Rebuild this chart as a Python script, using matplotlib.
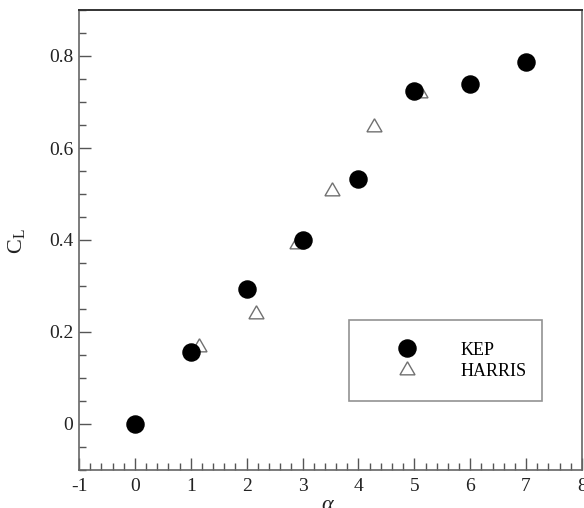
import matplotlib
matplotlib.use("Agg")
import matplotlib.pyplot as plt
from matplotlib.ticker import MultipleLocator

plt.rcParams['font.family'] = ['Liberation Serif', 'DejaVu Serif']
plt.rcParams['axes.unicode_minus'] = False
plt.rcParams['mathtext.fontset'] = 'custom'
plt.rcParams['mathtext.rm'] = 'Liberation Serif'
plt.rcParams['mathtext.it'] = 'Liberation Serif:italic'

kep_alpha = [0, 1, 2, 3, 4, 5, 6, 7]
kep_cl = [0.0, 0.157, 0.294, 0.399, 0.533, 0.724, 0.739, 0.787]

harris_alpha = [1.15, 2.17, 2.90, 3.53, 4.27, 5.10]
harris_cl = [0.168, 0.240, 0.391, 0.507, 0.646, 0.719]

fig = plt.figure(figsize=(5.84, 5.08), dpi=100)
ax = fig.add_axes([79/584, 1 - 470/508, (582 - 79)/584, (470 - 10)/508])

ax.plot(harris_alpha, harris_cl, linestyle='none', marker=(3, 0, 0), markersize=12.5,
        markerfacecolor='white', markeredgecolor='#707070', markeredgewidth=1.0,
        label='HARRIS', zorder=3)
ax.plot(kep_alpha, kep_cl, linestyle='none', marker='o', markersize=12.3,
        markerfacecolor='black', markeredgecolor='black', label='KEP', zorder=4)

ax.set_xlim(-1, 8)
ax.set_ylim(-0.1, 0.9)
ax.xaxis.set_minor_locator(MultipleLocator(0.2))
ax.yaxis.set_minor_locator(MultipleLocator(0.05))
ax.set_yticks([0, 0.2, 0.4, 0.6, 0.8])
ax.set_yticklabels(['0', '0.2', '0.4', '0.6', '0.8'])
ax.set_xticks(range(-1, 9))
ax.set_xticklabels([str(v) for v in range(-1, 9)])

ax.tick_params(which='both', direction='in', top=False, right=False, colors='#555555',
               labelcolor='#222222', labelsize=14)
ax.tick_params(which='major', length=8.5, width=1.0)
ax.tick_params(which='minor', length=5.2, width=1.0)
ax.tick_params(axis='x', pad=6)
ax.tick_params(axis='y', pad=4)

for side in ['left', 'bottom', 'right']:
    ax.spines[side].set_color('#666666')
    ax.spines[side].set_linewidth(1.2)
ax.spines['top'].set_color('#333333')
ax.spines['top'].set_linewidth(1.4)

ax.set_xlabel(r'$\alpha$', fontsize=16, color='#222222')
ax.xaxis.label.set_verticalalignment('center')
ax.xaxis.set_label_coords((328 - 79) / (582 - 79), -(505 - 470) / 460)
ax.set_ylabel(r'C$_{\rm L}$', fontsize=16, color='#222222')
ax.yaxis.set_label_coords(-(79 - 27) / (582 - 79), (470 - 241) / 460)

h, l = ax.get_legend_handles_labels()
leg = ax.legend(h[::-1], l[::-1], loc='upper left',
                bbox_to_anchor=((349 - 79) / 503, (470 - 398) / 460, (542 - 349) / 503, (398 - 320) / 460),
                mode='expand', frameon=True, fancybox=False, fontsize=13,
                handletextpad=0.97, borderpad=1.2, labelspacing=0.23, borderaxespad=0,
                handlelength=4.0)
leg.get_frame().set_edgecolor('#777777')
leg.get_frame().set_linewidth(1.2)

fig.savefig('out.png', dpi=100)
